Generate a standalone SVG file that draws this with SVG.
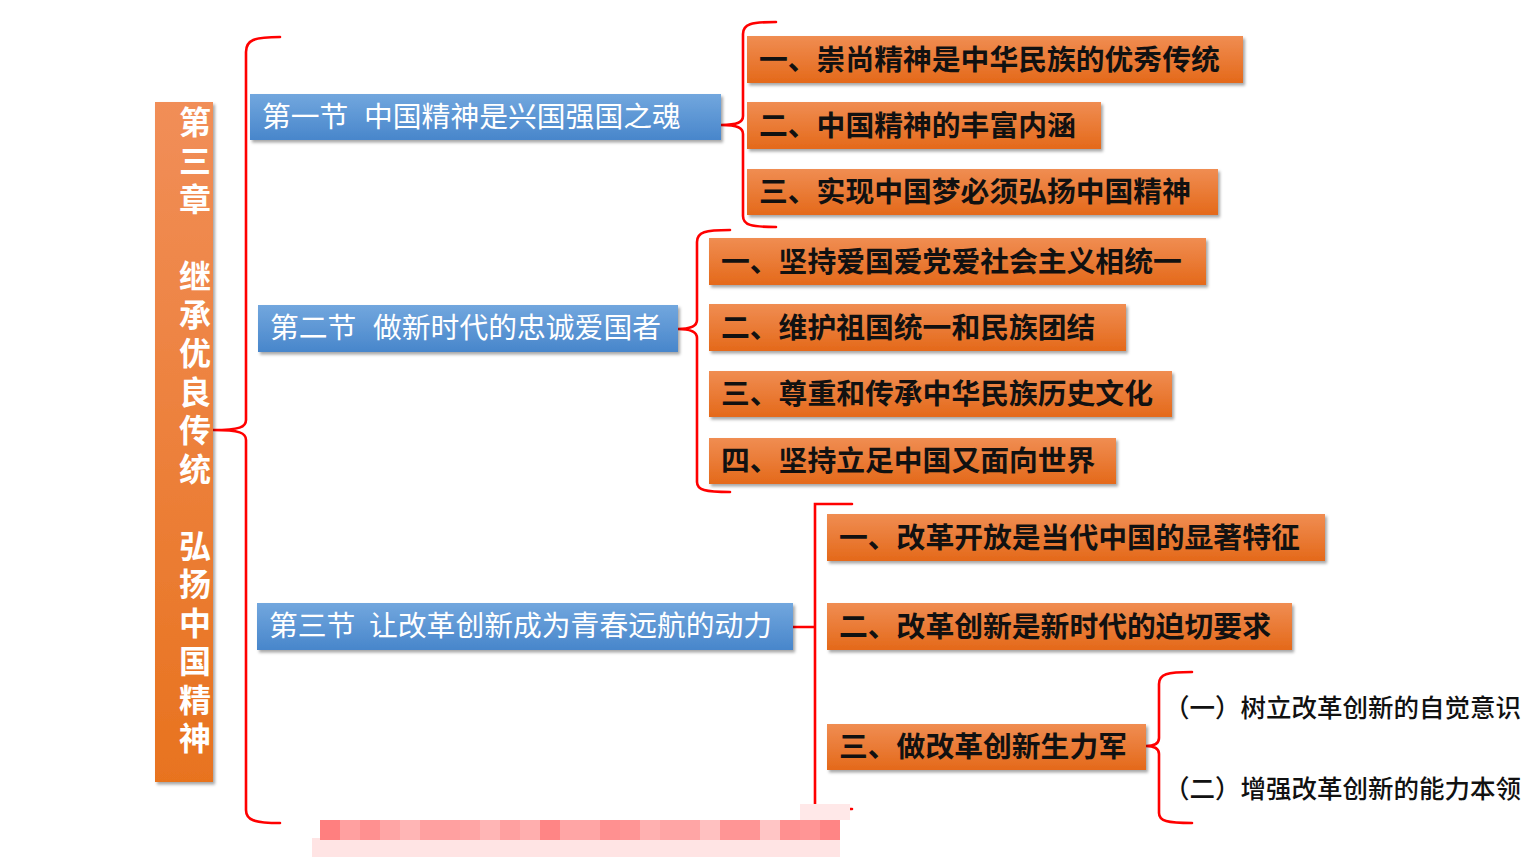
<svg xmlns="http://www.w3.org/2000/svg" width="1538" height="859" viewBox="0 0 1538 859">
<style>
.br{fill:none;stroke:#FF0000;stroke-width:2.6;stroke-linecap:round}
.ob{fill:url(#og);filter:url(#sh)}
.bb{fill:url(#bg);filter:url(#sh)}
.ot{font-family:"Noto Sans CJK SC","Noto Sans",sans-serif;font-size:28.8px;font-weight:bold;fill:#111}
.bt{font-family:"Noto Sans CJK SC","Noto Sans",sans-serif;font-size:28.8px;fill:#fff}
.vt{font-family:"Noto Sans CJK SC","Noto Sans",sans-serif;font-size:32px;font-weight:bold;fill:#fff;writing-mode:vertical-rl;letter-spacing:6.5px}
.st{font-family:"Noto Sans CJK SC","Noto Sans",sans-serif;font-size:25.5px;fill:#111;font-weight:500}
</style>
<defs>
<linearGradient id="og" x1="0" y1="0" x2="0" y2="1"><stop offset="0" stop-color="#F08D52"/><stop offset="1" stop-color="#E4691A"/></linearGradient>
<linearGradient id="cg" x1="0" y1="0" x2="0" y2="1"><stop offset="0" stop-color="#F18E58"/><stop offset="1" stop-color="#E8731F"/></linearGradient>
<linearGradient id="bg" x1="0" y1="0" x2="0" y2="1"><stop offset="0" stop-color="#72A7DE"/><stop offset="1" stop-color="#4886CB"/></linearGradient>
<filter id="sh" x="-10%" y="-20%" width="120%" height="150%"><feDropShadow dx="2" dy="2.5" stdDeviation="1.5" flood-color="#000" flood-opacity="0.35"/></filter>
</defs>
<rect width="1538" height="859" fill="#fff"/>

<g id="connectors">
<path class="br" d="M280,37 C254,37 246,40 246,52 L246,420 C246,427 240,430 213,430 M213,430 C240,430 246,433 246,440 L246,810 C246,820 254,823 280,823"/>
<path class="br" d="M776,22 C751,22 743,24 743,34 L743,116 C743,122 738,125 721,125 M721,125 C738,125 743,128 743,134 L743,216 C743,225 751,227 776,227"/>
<path class="br" d="M730,230 C705,230 697,232 697,242 L697,320 C697,326 692,329 678,329 M678,329 C692,329 697,332 697,338 L697,482 C697,490 705,492 730,492"/>
<path class="br" d="M793,627 L815,627 M852,504 L815,504 L815,809 L852,809" stroke-linecap="butt"/>
<path class="br" d="M1192,672 C1167,672 1159,674 1159,684 L1159,738 C1159,743 1155,746 1146,746 M1146,746 C1155,746 1159,749 1159,754 L1159,813 C1159,821 1167,823 1192,823"/>
</g>

<g id="chapter">
<rect x="155" y="102" width="58" height="680" fill="url(#cg)" filter="url(#sh)"/>
<text class="vt" x="195" y="106">第三章　继承优良传统　弘扬中国精神</text>
</g>

<g id="sec1"><rect class="bb" x="250" y="94" width="471" height="46"/><text class="bt" y="127"><tspan x="262">第一节</tspan><tspan x="364">中国精神是兴国强国之魂</tspan></text></g>
<g id="sec2"><rect class="bb" x="258" y="305" width="420" height="47"/><text class="bt" y="338"><tspan x="270">第二节</tspan><tspan x="373">做新时代的忠诚爱国者</tspan></text></g>
<g id="sec3"><rect class="bb" x="257" y="603" width="536" height="47"/><text class="bt" y="636"><tspan x="269">第三节</tspan><tspan x="369">让改革创新成为青春远航的动力</tspan></text></g>

<g id="s1a"><rect class="ob" x="747" y="36" width="496" height="47"/><text class="ot" x="759" y="70">一、崇尚精神是中华民族的优秀传统</text></g>
<g id="s1b"><rect class="ob" x="747" y="102" width="354" height="47"/><text class="ot" x="759" y="136">二、中国精神的丰富内涵</text></g>
<g id="s1c"><rect class="ob" x="747" y="169" width="471" height="46"/><text class="ot" x="759" y="202">三、实现中国梦必须弘扬中国精神</text></g>

<g id="s2a"><rect class="ob" x="709" y="238" width="497" height="47"/><text class="ot" x="721" y="272">一、坚持爱国爱党爱社会主义相统一</text></g>
<g id="s2b"><rect class="ob" x="709" y="304" width="417" height="47"/><text class="ot" x="721" y="338">二、维护祖国统一和民族团结</text></g>
<g id="s2c"><rect class="ob" x="709" y="371" width="463" height="46"/><text class="ot" x="721" y="404">三、尊重和传承中华民族历史文化</text></g>
<g id="s2d"><rect class="ob" x="709" y="438" width="407" height="46"/><text class="ot" x="721" y="471">四、坚持立足中国又面向世界</text></g>

<g id="s3a"><rect class="ob" x="827" y="514" width="498" height="47"/><text class="ot" x="839" y="548">一、改革开放是当代中国的显著特征</text></g>
<g id="s3b"><rect class="ob" x="827" y="603" width="465" height="47"/><text class="ot" x="839" y="637">二、改革创新是新时代的迫切要求</text></g>
<g id="s3c"><rect class="ob" x="827" y="724" width="319" height="46"/><text class="ot" x="839" y="757">三、做改革创新生力军</text></g>

<g id="s3c1"><text class="st" x="1164" y="717">（一）树立改革创新的自觉意识</text></g>
<g id="s3c2"><text class="st" x="1164" y="798">（二）增强改革创新的能力本领</text></g>

<g id="mosaic">
<rect x="312" y="838" width="528" height="19" fill="#FFE4E4"/>
<rect x="800" y="804" width="50" height="16" fill="#FFE8E8"/>
<rect x="320" y="820" width="20" height="20" fill="#FF7F7F"/>
<rect x="340" y="820" width="20" height="20" fill="#FFA0A0"/>
<rect x="360" y="820" width="20" height="20" fill="#FF9090"/>
<rect x="380" y="820" width="20" height="20" fill="#FFA5A5"/>
<rect x="400" y="820" width="20" height="20" fill="#FFB5B5"/>
<rect x="420" y="820" width="20" height="20" fill="#FFA0A0"/>
<rect x="440" y="820" width="20" height="20" fill="#FFA0A0"/>
<rect x="460" y="820" width="20" height="20" fill="#FFA5A5"/>
<rect x="480" y="820" width="20" height="20" fill="#FFB5B5"/>
<rect x="500" y="820" width="20" height="20" fill="#FFA0A0"/>
<rect x="520" y="820" width="20" height="20" fill="#FFAEAE"/>
<rect x="540" y="820" width="20" height="20" fill="#FF8585"/>
<rect x="560" y="820" width="20" height="20" fill="#FFA5A5"/>
<rect x="580" y="820" width="20" height="20" fill="#FFA5A5"/>
<rect x="600" y="820" width="20" height="20" fill="#FF9090"/>
<rect x="620" y="820" width="20" height="20" fill="#FF9595"/>
<rect x="640" y="820" width="20" height="20" fill="#FFB0B0"/>
<rect x="660" y="820" width="20" height="20" fill="#FFA5A5"/>
<rect x="680" y="820" width="20" height="20" fill="#FFA5A5"/>
<rect x="700" y="820" width="20" height="20" fill="#FFC0C0"/>
<rect x="720" y="820" width="20" height="20" fill="#FF9595"/>
<rect x="740" y="820" width="20" height="20" fill="#FF9595"/>
<rect x="760" y="820" width="20" height="20" fill="#FFC5C5"/>
<rect x="780" y="820" width="20" height="20" fill="#FF9090"/>
<rect x="800" y="820" width="20" height="20" fill="#FF9595"/>
<rect x="820" y="820" width="20" height="20" fill="#FF8585"/>
</g>
</svg>
